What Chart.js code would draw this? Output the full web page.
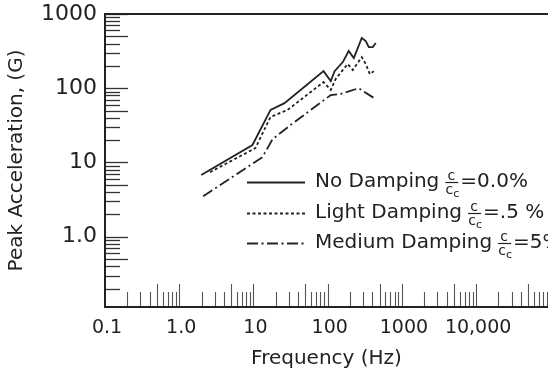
<!DOCTYPE html>
<html>
<head>
<meta charset="utf-8">
<script src="https://cdn.jsdelivr.net/npm/chart.js@4.4.1/dist/chart.umd.min.js"></script>
<style>
  html, body { margin: 0; padding: 0; background: #ffffff; }
  #wrap { width: 548px; height: 371px; position: relative; }
</style>
</head>
<body>
<div id="wrap"><canvas id="c" width="548" height="371"></canvas></div>
<script>
// ---- Data ----
const seriesNames = ["No Damping", "Light Damping", "Medium Damping"];
const dampingRatios = ["=0.0%", "=.5 %", "=5%"];

const noDampFreq  = [1.98, 9.7, 17.0, 26.2, 88, 110, 124, 160, 192, 225, 288, 326, 358, 405, 445];
const noDampAccel = [6.8, 17.2, 51, 63, 170, 125, 170, 225, 317, 255, 475, 433, 359, 359, 406];

const lightDampFreq  = [2.6, 10.6, 17.0, 28.8, 88, 110, 128, 186, 218, 288, 326, 370, 419];
const lightDampAccel = [7.4, 15.6, 41, 51, 121, 95, 133, 212, 176, 263, 212, 155, 170];

const medDampFreq  = [2.1, 13.2, 18.1, 31.6, 110, 150, 262, 419];
const medDampAccel = [3.5, 11.8, 20.6, 31.9, 81, 84, 100, 74];

const xTickValues = [0.1, 1, 10, 100, 1000, 10000];
const xTickLabels = ["0.1", "1.0", "10", "100", "1000", "10,000"];
const yTickValues = [1, 10, 100, 1000];
const yTickLabels = ["1.0", "10", "100", "1000"];

const xTitle = "Frequency (Hz)";
const yTitle = "Peak Acceleration, (G)";

// ---- Styles ----
const ink = "#222";
const dashStyles = [[], [3, 2.5], [11, 3.5, 2, 3.5]];

function pts(xs, ys) { return xs.map((x, i) => ({ x: x, y: ys[i] })); }

const datasets = [
  { label: seriesNames[0], data: pts(noDampFreq, noDampAccel), borderDash: dashStyles[0] },
  { label: seriesNames[1], data: pts(lightDampFreq, lightDampAccel), borderDash: dashStyles[1] },
  { label: seriesNames[2], data: pts(medDampFreq, medDampAccel), borderDash: dashStyles[2] }
].map(d => Object.assign(d, {
  borderColor: ink, borderWidth: 1.8, pointRadius: 0, tension: 0, fill: false
}));

// Minor / major inward ticks and the frame, positioned through the scales
const frameTicks = {
  id: "frameTicks",
  beforeDatasetsDraw(chart) {
    const { ctx, chartArea: a, scales: { x, y } } = chart;
    ctx.save();
    ctx.strokeStyle = "#333";
    ctx.lineWidth = 1.3;
    for (let d = 0.1; d <= 1000; d *= 10) {
      for (let m = 1; m <= 9; m++) {
        const v = d * m;
        if (v < y.min || v > y.max) continue;
        const py = Math.round(y.getPixelForValue(v)) + 0.5;
        const len = (m === 1 || m === 5) ? 23 : 15;
        ctx.beginPath(); ctx.moveTo(a.left, py); ctx.lineTo(a.left + len, py); ctx.stroke();
      }
    }
    ctx.strokeStyle = "#555";
    ctx.lineWidth = 1.1;
    for (let d = 0.1; d <= 100000; d *= 10) {
      for (let m = 1; m <= 9; m++) {
        const v = d * m;
        if (v <= x.min * 1.01 || v > x.max) continue;
        const px = Math.round(x.getPixelForValue(v)) + 0.5;
        const len = (m === 1 || m === 5) ? 23 : 15;
        ctx.beginPath(); ctx.moveTo(px, a.bottom); ctx.lineTo(px, a.bottom - len); ctx.stroke();
      }
    }
    ctx.strokeStyle = "#222";
    ctx.lineWidth = 2;
    ctx.beginPath();
    ctx.moveTo(chart.width, a.top);
    ctx.lineTo(a.left, a.top);
    ctx.lineTo(a.left, a.bottom);
    ctx.lineTo(chart.width, a.bottom);
    ctx.stroke();
    ctx.restore();
  }
};

// Legend with stacked c/cc fractions
const fracLegend = {
  id: "fracLegend",
  afterDatasetsDraw(chart) {
    const { ctx } = chart;
    const rowsY = [182, 213, 243];
    const x0 = 247, x1 = 305, tx = 315;
    ctx.save();
    chart.data.datasets.forEach((ds, i) => {
      const yy = rowsY[i];
      ctx.strokeStyle = ink;
      ctx.lineWidth = 1.8;
      ctx.setLineDash(ds.borderDash || []);
      ctx.beginPath(); ctx.moveTo(x0, yy + 0.5); ctx.lineTo(x1, yy + 0.5); ctx.stroke();
      ctx.setLineDash([]);
      ctx.fillStyle = ink;
      ctx.font = "20px 'DejaVu Sans'";
      ctx.textBaseline = "middle";
      ctx.textAlign = "left";
      ctx.fillText(ds.label, tx, yy);
      const fx = tx + ctx.measureText(ds.label).width + 6;
      ctx.font = "14px 'DejaVu Sans'";
      ctx.textAlign = "center";
      ctx.textBaseline = "alphabetic";
      ctx.fillText("c", fx + 6, yy - 2);
      ctx.lineWidth = 1.2;
      ctx.beginPath(); ctx.moveTo(fx, yy + 0.5); ctx.lineTo(fx + 13, yy + 0.5); ctx.stroke();
      ctx.fillText("c", fx + 4, yy + 12);
      ctx.font = "11px 'DejaVu Sans'";
      ctx.fillText("c", fx + 11, yy + 15);
      ctx.font = "20px 'DejaVu Sans'";
      ctx.textAlign = "left";
      ctx.textBaseline = "middle";
      ctx.fillText(dampingRatios[i], fx + 15, yy);
    });
    ctx.restore();
  }
};

new Chart(document.getElementById("c"), {
  type: "line",
  data: { datasets: datasets },
  options: {
    responsive: false,
    animation: false,
    devicePixelRatio: 1,
    layout: { padding: { top: 14, right: 0, left: 0, bottom: 0 } },
    plugins: { legend: { display: false }, tooltip: { enabled: false }, title: { display: false } },
    scales: {
      x: {
        type: "logarithmic",
        min: 0.1,
        max: 93000,
        grid: { display: false, drawTicks: false },
        border: { display: false },
        afterBuildTicks: s => { s.ticks = xTickValues.map(v => ({ value: v })); },
        afterFit: s => { s.height = 64; },
        ticks: {
          autoSkip: false, maxRotation: 0, minRotation: 0, padding: 10, labelOffset: 2,
          color: ink, font: { family: "DejaVu Sans", size: 19 },
          callback: (v, i) => xTickLabels[i]
        },
        title: {
          display: true, text: xTitle, color: ink,
          font: { family: "DejaVu Sans", size: 20 }, padding: { top: 0, bottom: 0 }
        }
      },
      y: {
        type: "logarithmic",
        min: 0.113,
        max: 1000,
        grid: { display: false, drawTicks: false },
        border: { display: false },
        afterBuildTicks: s => { s.ticks = yTickValues.map(v => ({ value: v })); },
        afterFit: s => { s.width = 105; s.paddingTop = 0; s.paddingBottom = 0; },
        ticks: {
          autoSkip: false, padding: 8,
          color: ink, font: { family: "DejaVu Sans", size: 22, lineHeight: 0.6 },
          callback: (v, i) => yTickLabels[i]
        },
        title: {
          display: true, text: yTitle, color: ink,
          font: { family: "DejaVu Sans", size: 20 }, padding: { top: 5, bottom: 0 }
        }
      }
    }
  },
  plugins: [frameTicks, fracLegend]
});
</script>
</body>
</html>
